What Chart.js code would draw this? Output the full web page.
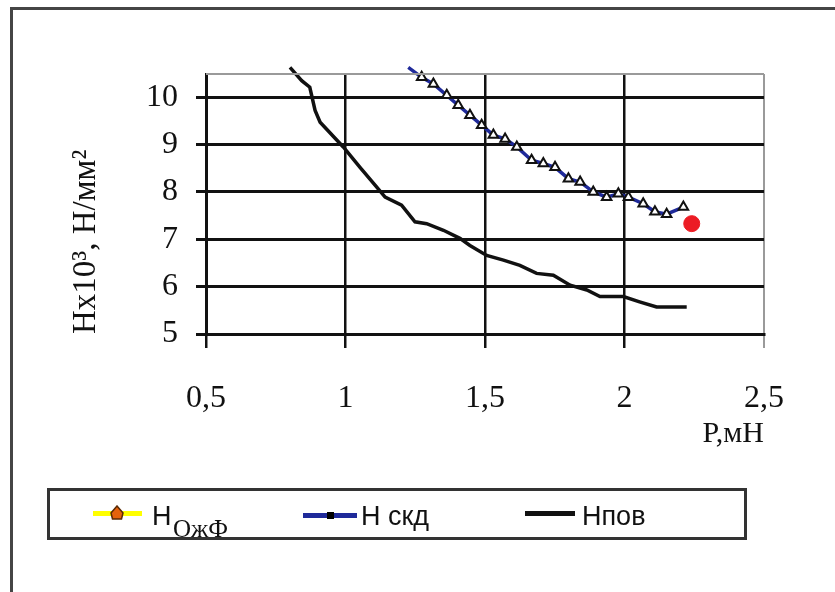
<!DOCTYPE html>
<html>
<head>
<meta charset="utf-8">
<script src="https://cdn.jsdelivr.net/npm/chart.js@4.4.1/dist/chart.umd.min.js"></script>
<style>
  html, body { margin:0; padding:0; background:#fff; width:835px; height:592px; overflow:hidden; }
  #frame { position:absolute; left:10px; top:7px; width:900px; height:700px;
           border-left:3px solid #454545; border-top:3px solid #454545; }
  #c { position:absolute; left:0; top:0; }
  #legend { position:absolute; left:47px; top:488px; width:700px; height:52px;
            border:3px solid #333; box-sizing:border-box; }
  .li { position:absolute; }
  .lt { position:absolute; font-family:"Liberation Sans", Arial, sans-serif; font-size:27px;
        line-height:27px; color:#111; white-space:nowrap; }
  .sub { position:absolute; font-family:"Liberation Serif", "Times New Roman", serif; font-size:25px;
         line-height:25px; color:#111; white-space:nowrap; }
</style>
</head>
<body>
<div id="frame"></div>
<canvas id="c" width="835" height="592"></canvas>
<div id="legend"></div>
<!-- legend entries -->
<div class="li" style="left:93px;top:511px;width:49px;height:5px;background:#ffff00;"></div>
<svg class="li" style="left:109px;top:505px;" width="16" height="16" viewBox="0 0 16 16">
  <path d="M8 1 L14 8 L12.5 14 L3.5 14 L2 8 Z" fill="#e5620c" stroke="#5a2a05" stroke-width="1.5"/>
</svg>
<div class="lt" style="left:152px;top:503px;">Н</div>
<div class="sub" style="left:173px;top:516px;">ОжФ</div>

<div class="li" style="left:303px;top:513px;width:54px;height:5px;background:#1f2a9a;"></div>
<div class="li" style="left:327px;top:512px;width:7px;height:7px;background:#000;"></div>
<div class="lt" style="left:361px;top:503px;">Н скд</div>

<div class="li" style="left:525px;top:511px;width:50px;height:5px;background:#111;"></div>
<div class="lt" style="left:582px;top:503px;">Нпов</div>

<script>
// ---- data ----
const ozhfX = [2.241];
const ozhfY = [7.33];

const skdX = [1.225, 1.273, 1.315, 1.363, 1.404, 1.446, 1.488, 1.530, 1.572, 1.614, 1.667, 1.709,
              1.751, 1.799, 1.841, 1.888, 1.936, 1.978, 2.014, 2.067, 2.109, 2.151, 2.211];
const skdY = [10.63, 10.42, 10.28, 10.04, 9.83, 9.62, 9.41, 9.20, 9.12, 8.95, 8.67, 8.60,
              8.52, 8.28, 8.21, 8.00, 7.89, 7.96, 7.89, 7.75, 7.58, 7.53, 7.68];

const npovX = [0.801, 0.843, 0.872, 0.891, 0.909, 0.992, 1.052, 1.112, 1.142, 1.201, 1.249, 1.291,
               1.351, 1.410, 1.446, 1.506, 1.566, 1.625, 1.685, 1.745, 1.805, 1.865, 1.912, 1.996,
               2.054, 2.115, 2.223];
const npovY = [10.63, 10.35, 10.21, 9.72, 9.47, 8.95, 8.52, 8.10, 7.89, 7.72, 7.37, 7.33,
               7.19, 7.02, 6.87, 6.66, 6.56, 6.45, 6.28, 6.24, 6.03, 5.93, 5.79, 5.79,
               5.68, 5.57, 5.57];

const xTickValues = [0.5, 1, 1.5, 2, 2.5];
const xTickLabels = ['0,5', '1', '1,5', '2', '2,5'];
const yTickValues = [5, 6, 7, 8, 9, 10];
const yTickLabels = ['5', '6', '7', '8', '9', '10'];

const xTitle = 'P,мН';
const yTitle = 'Нх10³, Н/мм²';

const pts = (xs, ys) => xs.map((x, i) => ({ x: x, y: ys[i] }));

const frameLines = {
  id: 'frameLines',
  afterDatasetsDraw(chart) {
    const { ctx, chartArea: a } = chart;
    ctx.save();
    ctx.strokeStyle = '#9a9a9a';
    ctx.lineWidth = 2;
    ctx.beginPath();
    ctx.moveTo(a.left, a.top);
    ctx.lineTo(a.right, a.top);
    ctx.stroke();
    ctx.restore();
  }
};

new Chart(document.getElementById('c'), {
  type: 'scatter',
  data: {
    datasets: [
      {
        label: 'НОжФ',
        data: pts(ozhfX, ozhfY),
        showLine: false,
        pointStyle: 'circle',
        pointRadius: 8,
        pointBackgroundColor: '#ec1c24',
        pointBorderColor: '#ec1c24',
        clip: 12,
        order: 0
      },
      {
        label: 'Н скд',
        data: pts(skdX, skdY),
        showLine: true,
        borderColor: '#1f2a9a',
        borderWidth: 3.5,
        tension: 0,
        pointStyle: 'triangle',
        pointRadius: skdX.map((v, i) => i === 0 ? 0 : 5.5),
        pointBackgroundColor: '#ffffff',
        pointBorderColor: '#111',
        pointBorderWidth: 2,
        clip: 12,
        order: 1
      },
      {
        label: 'Нпов',
        data: pts(npovX, npovY),
        showLine: true,
        borderColor: '#111',
        borderWidth: 3.5,
        tension: 0,
        pointRadius: 0,
        clip: 12,
        order: 2
      }
    ]
  },
  options: {
    responsive: false,
    animation: false,
    devicePixelRatio: 1,
    layout: { padding: { left: 67, top: 74, right: 71, bottom: 132 } },
    plugins: {
      legend: { display: false },
      tooltip: { enabled: false }
    },
    scales: {
      x: {
        type: 'linear',
        min: 0.5, max: 2.5,
        afterFit(scale) { scale.height = 126; },
        afterBuildTicks(scale) { scale.ticks = xTickValues.map(v => ({ value: v })); },
        ticks: {
          callback: (v) => { const i = xTickValues.indexOf(v); return i >= 0 ? xTickLabels[i] : ''; },
          font: { family: '"Liberation Serif", "Times New Roman", serif', size: 32 },
          color: '#111',
          padding: 31,
          maxRotation: 0,
          autoSkip: false
        },
        grid: {
          color: (ctx) => (ctx.tick && ctx.tick.value === 2.5) ? '#9a9a9a' : '#111',
          lineWidth: (ctx) => (ctx.tick && ctx.tick.value === 2.5) ? 2 : 2.5,
          tickLength: 14,
          drawTicks: true
        },
        border: { color: '#111', width: 3 },
        title: {
          display: true,
          text: xTitle,
          align: 'end',
          font: { family: '"Liberation Serif", "Times New Roman", serif', size: 30 },
          color: '#111',
          padding: { top: 0, bottom: 8 }
        }
      },
      y: {
        type: 'linear',
        min: 5, max: 10.49,
        afterFit(scale) { scale.width = 206 - 67; },
        afterBuildTicks(scale) { scale.ticks = yTickValues.map(v => ({ value: v })); },
        ticks: {
          callback: (v) => { const i = yTickValues.indexOf(v); return i >= 0 ? yTickLabels[i] : ''; },
          font: { family: '"Liberation Serif", "Times New Roman", serif', size: 32 },
          color: '#111',
          padding: 18,
          autoSkip: false
        },
        grid: {
          color: '#111',
          lineWidth: 3,
          tickLength: 10,
          drawTicks: true
        },
        border: { color: '#111', width: 3 },
        title: {
          display: true,
          text: yTitle,
          align: 'start',
          font: { family: '"Liberation Serif", "Times New Roman", serif', size: 33 },
          color: '#111',
          padding: { top: 0, bottom: 0 }
        }
      }
    }
  },
  plugins: [frameLines]
});
</script>
</body>
</html>
